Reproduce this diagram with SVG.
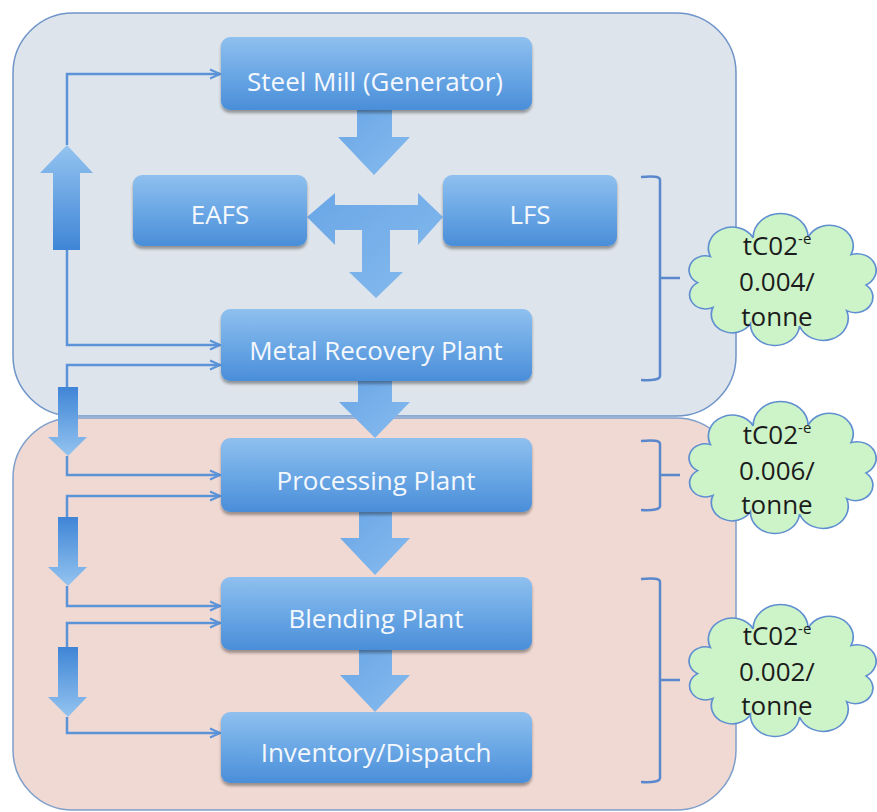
<svg xmlns="http://www.w3.org/2000/svg" width="877" height="812" viewBox="0 0 877 812">
  <defs>
    <style>
      .node-box { fill: url(#nodeFill); filter: url(#shadow); }
      .node-text { font-family: "Open Sans", "Liberation Sans", sans-serif; font-size: 26px; fill: #f4f8fd; text-anchor: middle; }
      .link { fill: none; stroke: #5b93d9; stroke-width: 2.5; marker-end: url(#openHead); }
      .bracket { fill: none; stroke: #5a88cc; stroke-width: 2.5; }
      .fat { fill: url(#fatFill); }
      .fat-down { fill: url(#fatDown); }
      .fat-up { fill: url(#fatUp); }
      .cloud { fill: #cdf3c8; stroke: #5f8fd0; stroke-width: 1.5; }
      .cloud-text { font-family: "Open Sans", "Liberation Sans", sans-serif; font-size: 26px; fill: #1c1c1c; text-anchor: middle; }
    </style>
    <linearGradient id="nodeFill" x1="0" y1="0" x2="0" y2="1">
      <stop offset="0" stop-color="#8fc0ef"/>
      <stop offset="0.45" stop-color="#6eaae6"/>
      <stop offset="1" stop-color="#4a8ed9"/>
    </linearGradient>
    <linearGradient id="fatFill" x1="0" y1="0" x2="1" y2="1">
      <stop offset="0" stop-color="#6aa6e6"/>
      <stop offset="1" stop-color="#86bbee"/>
    </linearGradient>
    <linearGradient id="fatDown" x1="0" y1="0" x2="0" y2="1">
      <stop offset="0" stop-color="#3f85d6"/>
      <stop offset="1" stop-color="#94c4f0"/>
    </linearGradient>
    <linearGradient id="fatUp" x1="0" y1="1" x2="0" y2="0">
      <stop offset="0" stop-color="#3f85d6"/>
      <stop offset="1" stop-color="#94c4f0"/>
    </linearGradient>
    <filter id="shadow" x="-5%" y="-10%" width="110%" height="130%">
      <feGaussianBlur in="SourceAlpha" stdDeviation="1.5"/>
      <feOffset dx="0" dy="2.5" result="off"/>
      <feComponentTransfer><feFuncA type="linear" slope="0.35"/></feComponentTransfer>
      <feMerge><feMergeNode/><feMergeNode in="SourceGraphic"/></feMerge>
    </filter>
    <marker id="openHead" viewBox="0 0 12 12" refX="11" refY="6" markerWidth="12" markerHeight="12" markerUnits="userSpaceOnUse" orient="auto">
      <path d="M1,1.5 L11,6 L1,10.5" fill="none" stroke="#5b93d9" stroke-width="2"/>
    </marker>
    <!-- ten-lobed cloud outline, centred on the origin -->
    <path id="cloudShape" d="M73.7,4 A15.4,15.4 0 0 1 56.7,29.6 A22,22 0 0 1 15.4,45 A21.6,21.6 0 0 1 -27.7,42.7 A18.4,18.4 0 0 1 -60.6,26.4 A14.1,14.1 0 0 1 -74,1.6 A14.2,14.2 0 0 1 -62.8,-24.4 A21,21 0 0 1 -25.3,-43.2 A24.1,24.1 0 0 1 22.9,-43.7 A20.7,20.7 0 0 1 60.6,-26.4 A16.6,16.6 0 0 1 73.7,4 Z"/>
  </defs>

  <rect width="877" height="812" fill="#ffffff"/>

  <!-- stage containers -->
  <g id="zone-lower">
    <rect x="13" y="418" width="723" height="392" rx="60" ry="60" fill="#f0d9d2" stroke="#7f9fcb" stroke-width="1.5"/>
  </g>
  <g id="zone-upper">
    <rect x="13" y="13" width="723" height="403" rx="60" ry="60" fill="#dee4eb" stroke="#6f94c8" stroke-width="1.5"/>
  </g>

  <!-- connectors -->
  <g id="connectors">
    <!-- thin return / feed lines on the left -->
    <path class="link" d="M67,145 V74 H220"/>
    <path class="link" d="M67,250 V345 H220"/>
    <path class="link" d="M67,388 V365 H220"/>
    <path class="link" d="M67,456 V475 H220"/>
    <path class="link" d="M67,517 V496 H220"/>
    <path class="link" d="M67,586 V606 H220"/>
    <path class="link" d="M67,647 V623 H220"/>
    <path class="link" d="M67,717 V733 H220"/>

    <!-- block arrows on the left -->
    <path class="fat-up" d="M53,250 V173 H40 L67,145 L93,173 H80 V250 Z"/>
    <path class="fat-down" d="M58,387 H78 V437 H87 L68,456 L48,437 H58 Z"/>
    <path class="fat-down" d="M58,517 H78 V567 H87 L68,586 L48,567 H58 Z"/>
    <path class="fat-down" d="M58,647 H78 V697 H87 L68,717 L48,697 H58 Z"/>

    <!-- block arrows down the main flow -->
    <path class="fat" d="M357,108 H392 V137 H410 L374,175 L338,137 H357 Z"/>
    <path class="fat" d="M335,193 V205 H418 V193 L443,217 L418,245 V230 H390 V272 H403 L376,298 L349,272 H362 V230 H335 V245 L307,217 Z"/>
    <path class="fat" d="M358,378 H392 V402 H410 L375,438 L339,402 H358 Z"/>
    <path class="fat" d="M359,508 H392 V538 H410 L375,575 L340,538 H359 Z"/>
    <path class="fat" d="M359,646 H392 V675 H410 L375,712 L340,675 H359 Z"/>

    <!-- brackets -->
    <path class="bracket" d="M641,177 Q660,175 660,180 V376 Q660,381 641,380 M660,278 H680"/>
    <path class="bracket" d="M641,441 Q660,439 660,444 V506 Q660,511 641,510 M660,475 H680"/>
    <path class="bracket" d="M641,579 Q660,577 660,582 V778 Q660,783 641,782 M660,680 H680"/>
  </g>

  <!-- process nodes -->
  <g id="steel-mill">
    <rect class="node-box" x="221" y="37" width="311" height="73" rx="9"/>
    <text class="node-text" x="375" y="91">Steel Mill (Generator)</text>
  </g>
  <g id="eafs">
    <rect class="node-box" x="133" y="175" width="174" height="71" rx="9"/>
    <text class="node-text" x="220" y="224">EAFS</text>
  </g>
  <g id="lfs">
    <rect class="node-box" x="443" y="175" width="174" height="71" rx="9"/>
    <text class="node-text" x="530" y="224">LFS</text>
  </g>
  <g id="metal-recovery">
    <rect class="node-box" x="221" y="309" width="311" height="72" rx="9"/>
    <text class="node-text" x="376" y="360">Metal Recovery Plant</text>
  </g>
  <g id="processing">
    <rect class="node-box" x="221" y="438" width="311" height="74" rx="9"/>
    <text class="node-text" x="376" y="490">Processing Plant</text>
  </g>
  <g id="blending">
    <rect class="node-box" x="221" y="577" width="311" height="73" rx="9"/>
    <text class="node-text" x="376" y="628">Blending Plant</text>
  </g>
  <g id="inventory">
    <rect class="node-box" x="221" y="712" width="311" height="71" rx="9"/>
    <text class="node-text" x="376" y="762">Inventory/Dispatch</text>
  </g>

  <!-- emission callouts -->
  <g id="emission-upper">
    <use href="#cloudShape" class="cloud" transform="translate(782,281) scale(1.14,1)"/>
    <text class="cloud-text" x="777" y="255">tC02<tspan font-size="15" dy="-11">-e</tspan></text>
    <text class="cloud-text" x="777" y="291">0.004/</text>
    <text class="cloud-text" x="777" y="326">tonne</text>
  </g>
  <g id="emission-processing">
    <use href="#cloudShape" class="cloud" transform="translate(782,469) scale(1.14,1)"/>
    <text class="cloud-text" x="777" y="444">tC02<tspan font-size="15" dy="-11">-e</tspan></text>
    <text class="cloud-text" x="777" y="480">0.006/</text>
    <text class="cloud-text" x="777" y="514">tonne</text>
  </g>
  <g id="emission-blending">
    <use href="#cloudShape" class="cloud" transform="translate(782,672) scale(1.14,1)"/>
    <text class="cloud-text" x="777" y="645">tC02<tspan font-size="15" dy="-11">-e</tspan></text>
    <text class="cloud-text" x="777" y="681">0.002/</text>
    <text class="cloud-text" x="777" y="715">tonne</text>
  </g>
</svg>
